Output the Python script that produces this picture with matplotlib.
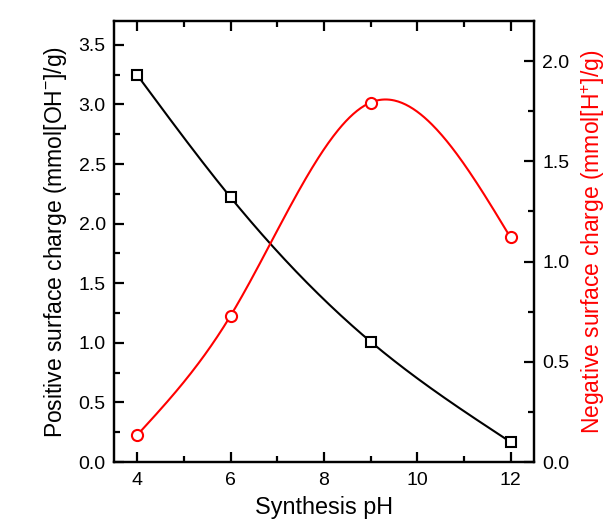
import numpy as np
import matplotlib
matplotlib.use("Agg")
import matplotlib.pyplot as plt
from matplotlib.ticker import MultipleLocator

plt.rcParams['font.family'] = ['Liberation Sans', 'DejaVu Sans']
plt.rcParams['mathtext.fontset'] = 'custom'
plt.rcParams['mathtext.rm'] = 'Liberation Sans'
plt.rcParams['mathtext.it'] = 'Liberation Sans:italic'

ph = [4, 6, 9, 12]
positive_charge = [3.245, 2.22, 1.01, 0.168]
negative_charge = [0.135, 0.73, 1.793, 1.12]
x_ticks = [4, 6, 8, 10, 12]


def natural_spline(x, y, xs):
    x = np.asarray(x, float); y = np.asarray(y, float)
    n = len(x)
    h = np.diff(x)
    A = np.zeros((n, n)); b = np.zeros(n)
    A[0, 0] = 1; A[-1, -1] = 1
    for i in range(1, n - 1):
        A[i, i - 1] = h[i - 1]
        A[i, i] = 2 * (h[i - 1] + h[i])
        A[i, i + 1] = h[i]
        b[i] = 6 * ((y[i + 1] - y[i]) / h[i] - (y[i] - y[i - 1]) / h[i - 1])
    M = np.linalg.solve(A, b)
    out = np.empty_like(xs)
    for j, xv in enumerate(xs):
        i = min(max(np.searchsorted(x, xv) - 1, 0), n - 2)
        t1 = x[i + 1] - xv; t0 = xv - x[i]
        out[j] = (M[i] * t1**3 / (6 * h[i]) + M[i + 1] * t0**3 / (6 * h[i])
                  + (y[i] / h[i] - M[i] * h[i] / 6) * t1
                  + (y[i + 1] / h[i] - M[i + 1] * h[i] / 6) * t0)
    return out


fig = plt.figure(figsize=(6.08, 5.24), dpi=100)
ax = fig.add_axes([0.1875, 0.1183, 0.6905, 0.8417])
ax2 = ax.twinx()

xs = np.linspace(min(ph), max(ph), 300)
ax.plot(xs, natural_spline(ph, positive_charge, xs), color='black', lw=1.5)
ax.plot(ph, positive_charge, ls='none', marker='s', ms=7, mfc='white',
        mec='black', mew=1.5)
ax2.plot(xs, natural_spline(ph, negative_charge, xs), color='red', lw=1.5)
ax2.plot(ph, negative_charge, ls='none', marker='o', ms=8, mfc='white',
         mec='red', mew=1.5)

ax.set_xlim(3.5, 12.5)
ax.set_ylim(0, 3.7)
ax2.set_ylim(0, 2.2)
ax.set_xticks(x_ticks)
ax.xaxis.set_minor_locator(MultipleLocator(1))
ax.yaxis.set_major_locator(MultipleLocator(0.5))
ax.yaxis.set_minor_locator(MultipleLocator(0.25))
ax2.yaxis.set_major_locator(MultipleLocator(0.5))
ax2.yaxis.set_minor_locator(MultipleLocator(0.25))
ax.yaxis.set_major_formatter(matplotlib.ticker.FormatStrFormatter('%.1f'))
ax2.yaxis.set_major_formatter(matplotlib.ticker.FormatStrFormatter('%.1f'))

ax.tick_params(axis='x', which='both', direction='in', top=True, labelsize=14, pad=7)
ax.tick_params(axis='y', which='both', direction='in', right=False, labelsize=14, pad=6)
ax2.tick_params(axis='y', which='both', direction='in', labelsize=14, pad=6)
for a in (ax, ax2):
    a.tick_params(which='major', length=7, width=1.6)
    a.tick_params(which='minor', length=4.5, width=1.6)
    for s in a.spines.values():
        s.set_linewidth(1.6)

ax.set_xlabel('Synthesis pH', fontsize=16.8, labelpad=5)
ax.set_ylabel(r'Positive surface charge (mmol[OH$^{-}$]/g)', fontsize=16.5, labelpad=7)
ax2.set_ylabel(r'Negative surface charge (mmol[H$^{+}$]/g)', fontsize=16.5,
               color='red', rotation=90, labelpad=7)

fig.savefig('out.png', dpi=100, facecolor='white')
